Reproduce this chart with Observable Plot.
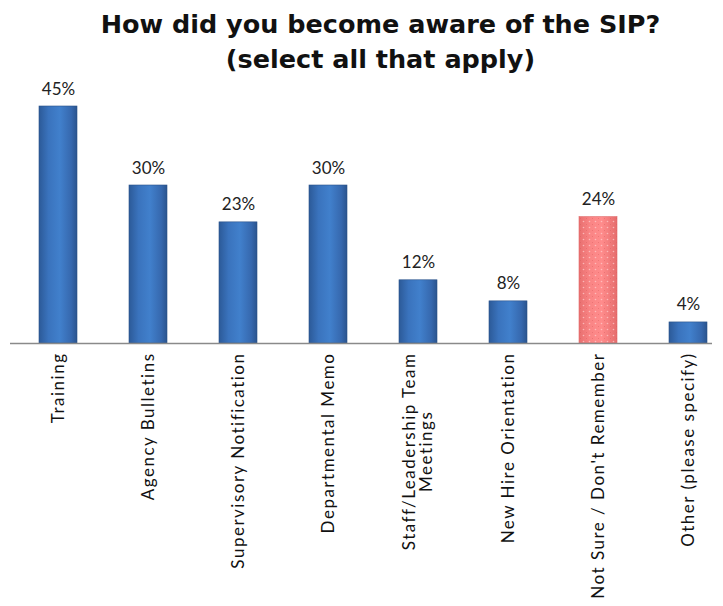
<!DOCTYPE html>
<html>
<head>
<meta charset="utf-8">
<script src="https://cdn.jsdelivr.net/npm/d3@7"></script>
<script src="https://cdn.jsdelivr.net/npm/@observablehq/plot@0.6"></script>
<style>
  body { margin: 0; background: #fff; width: 723px; height: 606px; overflow: hidden; }
  #title { height: 70px; text-align: center; font-family: "DejaVu Sans", Verdana, sans-serif; font-weight: bold;
           font-size: 25.5px; line-height: 35px; color: #111; padding-top: 7px; box-sizing: border-box; padding-left: 38px; white-space: nowrap; }
  svg { display: block; }
</style>
</head>
<body>
<div id="title">How did you become aware of the SIP?<br>(select all that apply)</div>
<div id="chart"></div>
<script>
const categories = [
  "Training",
  "Agency Bulletins",
  "Supervisory Notification",
  "Departmental Memo",
  "Staff/Leadership Team Meetings",
  "New Hire Orientation",
  "Not Sure / Don't Remember",
  "Other (please specify)"
];
const values = [45, 30, 23, 30, 12, 8, 24, 4];
const highlighted = ["Not Sure / Don't Remember"];
const tickLabels = {
  "Staff/Leadership Team Meetings": "Staff/Leadership Team\nMeetings"
};

const data = categories.map((c, i) => ({category: c, value: values[i], hi: highlighted.includes(c)}));

const plot = Plot.plot({
  width: 723,
  height: 536,
  marginTop: 36,
  marginBottom: 263,
  marginLeft: 10,
  marginRight: 11,
  x: {domain: categories, range: [12, 734], paddingInner: 0.58, paddingOuter: 0.29},
  y: {domain: [0, 45], axis: null},
  marks: [
    Plot.barY(data.filter(d => !d.hi), {x: "category", y: "value", fill: "url(#blueGrad)", stroke: "#2a5288", strokeWidth: 0.6, style: "filter: drop-shadow(1px 1px 1px rgba(0,0,0,0.35))"}),
    Plot.barY(data.filter(d => d.hi), {x: "category", y: "value", fill: "url(#pinkGrad)", stroke: "#e06a6a", strokeWidth: 0.6, style: "filter: drop-shadow(1px 1px 1px rgba(0,0,0,0.25))"}),
    Plot.barY(data.filter(d => d.hi), {x: "category", y: "value", fill: "url(#dots)"}),
    Plot.tickY(data.filter(d => !d.hi), {x: "category", y: "value", stroke: "url(#blueCap)", strokeWidth: 7, dy: 3.5, insetLeft: 1, insetRight: 1}),
    Plot.tickY(data.filter(d => d.hi), {x: "category", y: "value", stroke: "url(#pinkCap)", strokeWidth: 7, dy: 3.5, insetLeft: 1, insetRight: 1}),
    Plot.ruleY([0], {stroke: "#8a8a8a", strokeWidth: 1.5}),
    Plot.text(data, {x: "category", y: "value", text: d => d.value + "%", lineAnchor: "bottom", dy: -12,
      fontSize: 17, fill: "#222", fontFamily: "Lato, 'Open Sans', sans-serif", style: "letter-spacing: 2.6px"}),
    Plot.axisX({tickSize: 0, tickPadding: 9, rotate: -90, textAnchor: "end", lineAnchor: "middle", fontSize: 17,
      fontFamily: "Lato, 'Open Sans', sans-serif", fill: "#111", label: null,
      tickFormat: d => tickLabels[d] || d})
  ]
});

const defs = d3.select(plot).insert("defs", ":first-child");
function hgrad(id, stops) {
  const g = defs.append("linearGradient").attr("id", id).attr("x1", "0").attr("x2", "1").attr("y1", "0").attr("y2", "0");
  stops.forEach(([o, c]) => g.append("stop").attr("offset", o).attr("stop-color", c));
}
hgrad("blueGrad", [[0, "#2c5a98"], [0.25, "#3a73bd"], [0.55, "#4180cc"], [0.85, "#3668ae"], [1, "#2a548e"]]);
hgrad("pinkGrad", [[0, "#e86f6f"], [0.3, "#fa8585"], [0.6, "#ff8c8c"], [1, "#e56c6c"]]);
hgrad("blueCap", [[0, "#4b86cf"], [0.2, "#7bb0ef"], [0.8, "#7bb0ef"], [1, "#4b86cf"]]);
hgrad("pinkCap", [[0, "#f08a8a"], [0.2, "#ffb0b0"], [0.8, "#ffb0b0"], [1, "#f08a8a"]]);
const pat = defs.append("pattern").attr("id", "dots").attr("width", 6).attr("height", 6).attr("patternUnits", "userSpaceOnUse");
pat.append("circle").attr("cx", 1.5).attr("cy", 1.5).attr("r", 0.8).attr("fill", "#ffd0d0").attr("opacity", 0.7);
pat.append("circle").attr("cx", 4.5).attr("cy", 4.5).attr("r", 0.6).attr("fill", "#d85a5a").attr("opacity", 0.5);

document.getElementById("chart").appendChild(plot);

// letter spacing on tick labels; center second line of the two-line label under the first
plot.querySelectorAll("text").forEach(t => {
  const g = t.parentNode;
  if (g.getAttribute("aria-label") !== "x-axis tick label") return;
  t.style.letterSpacing = "1.5px";
  const tspans = t.querySelectorAll("tspan");
  if (tspans.length < 2) return;
  const measure = s => {
    const tmp = document.createElementNS("http://www.w3.org/2000/svg", "text");
    tmp.textContent = s;
    tmp.style.letterSpacing = "1.5px";
    g.appendChild(tmp);
    const w = tmp.getBBox().width;
    g.removeChild(tmp);
    return w;
  };
  const len0 = measure(tspans[0].textContent);
  for (let i = 1; i < tspans.length; i++) {
    const len = measure(tspans[i].textContent);
    tspans[i].setAttribute("x", String(-(len0 - len) / 2));
  }
});
</script>
</body>
</html>
